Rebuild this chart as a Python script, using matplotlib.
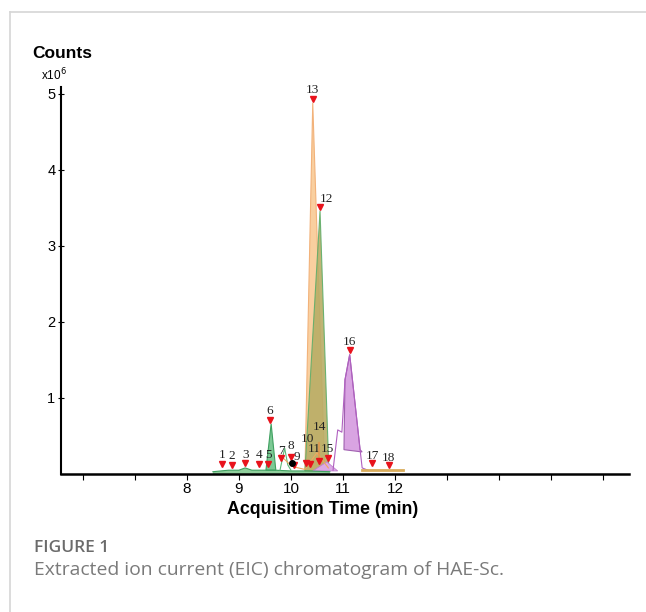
import matplotlib
matplotlib.use("Agg")
import matplotlib.pyplot as plt
import matplotlib.transforms as mtransforms
from matplotlib.lines import Line2D

# labelled peaks: retention time (min) and apex height (x10^6 counts)
peak_ids = [str(i) for i in range(1, 19)]
peak_rt = [8.67, 8.87, 9.12, 9.38, 9.56, 9.60, 9.81, 10.00, 10.06,
           10.29, 10.37, 10.56, 10.42, 10.54, 10.71, 11.13, 11.56, 11.88]
peak_top = [0.08, 0.07, 0.09, 0.08, 0.08, 0.66, 0.16, 0.17, 0.07,
            0.09, 0.08, 3.46, 4.88, 0.11, 0.16, 1.57, 0.09, 0.07]

# EIC traces (time, counts x10^6)
green_base_t = [8.50, 8.80, 9.00, 9.12, 9.25, 9.45, 9.70, 10.00, 10.30, 10.75]
green_base_h = [0.03, 0.05, 0.05, 0.08, 0.05, 0.05, 0.05, 0.04, 0.04, 0.03]
green6_t = [9.52, 9.62, 9.71]
green6_h = [0.05, 0.66, 0.05]
green7_t = [9.79, 9.88, 9.94, 10.00]
green7_h = [0.05, 0.34, 0.12, 0.05]
orange13_t = [10.27, 10.42, 10.65]
orange13_h = [0.04, 4.88, 0.04]
olive12_t = [10.27, 10.56, 10.73]
olive12_h = [0.04, 3.46, 0.04]
orange_low_t = [9.79, 10.02, 10.27, 10.50, 10.72]
orange_low_h = [0.25, 0.10, 0.06, 0.28, 0.08]
purple15_t = [10.42, 10.69, 10.90]
purple15_h = [0.04, 0.16, 0.04]
purple16_t = [10.81, 10.90, 10.98, 11.04, 11.13, 11.33, 11.37, 11.48]
purple16_h = [0.05, 0.58, 0.55, 1.24, 1.57, 0.32, 0.08, 0.05]
purple16_fill_t = [11.02, 11.04, 11.13, 11.33, 11.37]
purple16_fill_h = [0.32, 1.24, 1.57, 0.32, 0.29]
tan_base_t = [11.37, 11.60, 11.90, 12.15]
tan_base_h = [0.05, 0.05, 0.05, 0.05]
dot_t = [10.02]
dot_h = [0.14]

x_ticks = [6, 7, 8, 9, 10, 11, 12, 13, 14, 15, 16]
x_ticklabels = ["", "", "8", "9", "10", "11", "12", "", "", "", ""]
y_ticks = [1, 2, 3, 4, 5]

# label offsets in pixels (dx, dy) from the apex
label_off = {"8": (0, 15), "9": (3, 12), "10": (1, 28), "11": (4, 19),
             "12": (6, 12), "14": (0, 39), "7": (0, 11), "17": (0, 11), "18": (0, 11)}

fig = plt.figure(figsize=(6.46, 6.12), dpi=100)
ax = fig.add_axes([61/646, 1 - 474/612, 568/646, 387/612])

# traces
ax.fill(green_base_t + green_base_t[::-1], green_base_h + [0]*len(green_base_h),
        color="#8fcf9c", lw=0)
ax.plot(green_base_t, green_base_h, color="#3fa060", lw=0.8)
ax.fill(green6_t, green6_h, facecolor="#7cc994", edgecolor="#3fa060", lw=0.8)
ax.plot(green7_t, green7_h, color="#5cb878", lw=0.8)
ax.plot(orange_low_t, orange_low_h, color="#f0a860", lw=0.8)
ax.fill(orange13_t, orange13_h, facecolor="#f9cf9f", edgecolor="#f2b27a", lw=0.8)
ax.fill(olive12_t, olive12_h, facecolor="#b9ad66", edgecolor="#5fae6a", lw=0.8, alpha=0.9)
ax.fill(purple15_t, purple15_h, facecolor="#dcaae6", edgecolor="#c080d0", lw=0.6)
ax.plot(purple16_t, purple16_h, color="#b060c0", lw=0.8)
ax.fill(purple16_fill_t, purple16_fill_h, facecolor="#d9a4e2", edgecolor="#a060b0", lw=0.8)
ax.plot(tan_base_t, tan_base_h, color="#d9ad5c", lw=2)
ax.plot(dot_t, dot_h, "o", color="black", ms=4, zorder=5)

# peak markers and numbers
mark_tr = mtransforms.offset_copy(ax.transData, fig=fig, y=3, units="points")
ax.plot(peak_rt, peak_top, "v", color="#e8131c", ms=5, transform=mark_tr,
        clip_on=False, zorder=4)
for pid, t, h in zip(peak_ids, peak_rt, peak_top):
    dx, dy = label_off.get(pid, (0, 12.5))
    arrow = None
    if pid == "14":
        arrow = dict(arrowstyle="-", color="#f08a40", lw=0.8, shrinkA=5, shrinkB=4)
    ax.annotate(pid, (t, h), xytext=(dx*0.72, dy*0.72), textcoords="offset points",
                ha="center", va="center", fontsize=9.5, family="Liberation Serif",
                color="#222222", arrowprops=arrow)

ax.set_xlim(5.58, 16.5)
ax.set_ylim(0, 5.09)
ax.set_xticks(x_ticks)
ax.set_xticklabels(x_ticklabels, fontsize=11, family="Liberation Sans")
ax.set_yticks(y_ticks)
ax.set_yticklabels([str(v) for v in y_ticks], fontsize=10.5, family="Liberation Sans")
ax.tick_params(axis="x", direction="out", length=4, width=0.8, pad=2)
ax.tick_params(axis="y", direction="inout", length=4, width=0.8, pad=2)
for s in ["top", "right"]:
    ax.spines[s].set_visible(False)
ax.spines["left"].set_linewidth(1.5)
ax.spines["bottom"].set_linewidth(1.8)

fig.text(323/646, 1 - 510/612, "Acquisition Time (min)", ha="center", va="center",
         fontsize=12.8, fontweight="bold", family="Liberation Sans")
fig.text(32/646, 1 - 53/612, "Counts", ha="left", va="center",
         fontsize=12.5, fontweight="bold", family="Liberation Sans")
fig.text(41/646, 1 - 75/612, "x10$^{6}$", ha="left", va="center",
         fontsize=8.5, family="Liberation Sans")

# caption
fig.text(34/646, 1 - 548/612, "FIGURE 1", ha="left", va="center",
         fontsize=12.5, fontweight="semibold", family="Open Sans", color="#6b6b6b")
fig.text(34/646, 1 - 570/612, "Extracted ion current (EIC) chromatogram of HAE-Sc.",
         ha="left", va="center", fontsize=13.9, family="Open Sans", color="#7a7a7a")

# page frame
fig.add_artist(Line2D([10/646, 1], [1 - 12/612, 1 - 12/612], color="#d6d6d6", lw=1.2))
fig.add_artist(Line2D([10/646, 10/646], [0, 1 - 12/612], color="#d6d6d6", lw=1.2))

fig.savefig("out.png", dpi=100)
